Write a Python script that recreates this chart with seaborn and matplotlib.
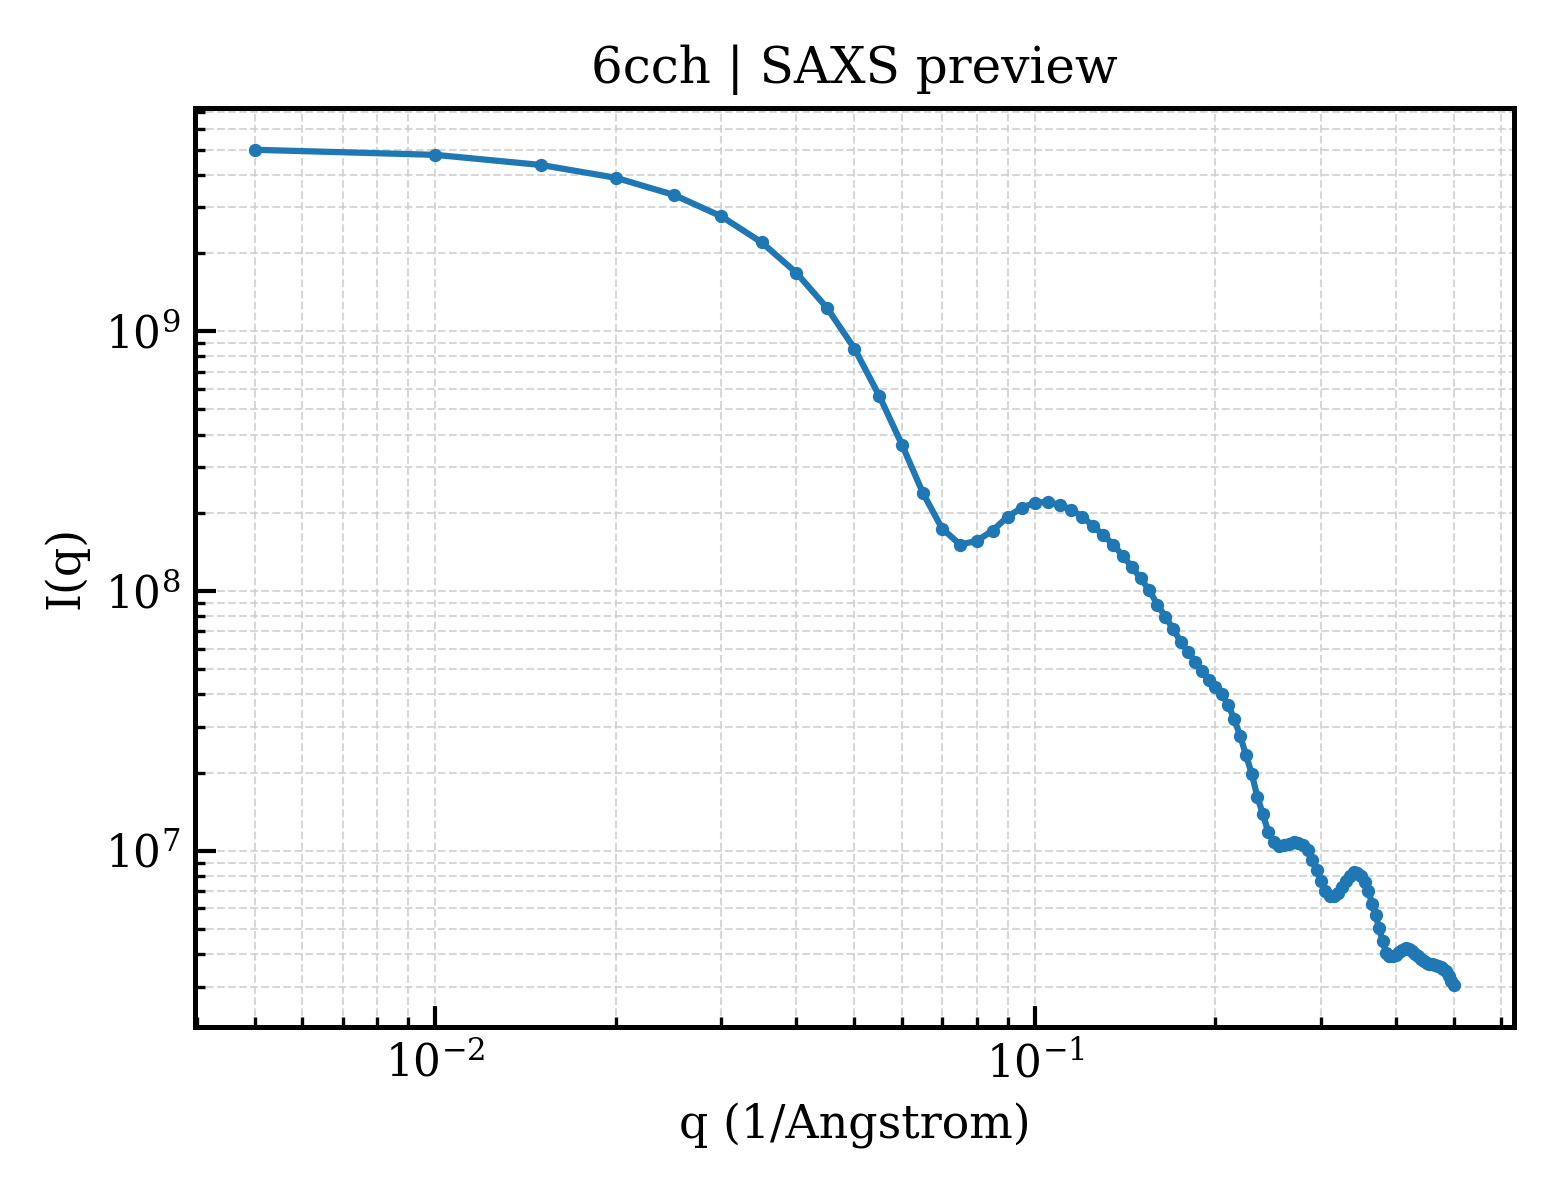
import matplotlib
matplotlib.use("Agg")
import matplotlib.pyplot as plt
import seaborn as sns
import pandas as pd

q_values = [
    0.005, 0.010, 0.015, 0.020, 0.025, 0.030, 0.035, 0.040, 0.045, 0.050,
    0.055, 0.060, 0.065, 0.070, 0.075, 0.080, 0.085, 0.090, 0.095, 0.100,
    0.105, 0.110, 0.115, 0.120, 0.125, 0.130, 0.135, 0.140, 0.145, 0.150,
    0.155, 0.160, 0.165, 0.170, 0.175, 0.180, 0.185, 0.190, 0.195, 0.200,
    0.205, 0.210, 0.215, 0.220, 0.225, 0.230, 0.235, 0.240, 0.245, 0.250,
    0.255, 0.260, 0.265, 0.270, 0.275, 0.280, 0.285, 0.290, 0.295, 0.300,
    0.305, 0.310, 0.315, 0.320, 0.325, 0.330, 0.335, 0.340, 0.345, 0.350,
    0.355, 0.360, 0.365, 0.370, 0.375, 0.380, 0.385, 0.390, 0.395, 0.400,
    0.405, 0.410, 0.415, 0.420, 0.425, 0.430, 0.435, 0.440, 0.445, 0.450,
    0.455, 0.460, 0.465, 0.470, 0.475, 0.480, 0.485, 0.490, 0.495, 0.500,
]

intensity = [
    5.00e9, 4.78e9, 4.37e9, 3.90e9, 3.35e9, 2.77e9, 2.20e9, 1.68e9, 1.23e9, 8.58e8,
    5.64e8, 3.66e8, 2.39e8, 1.74e8, 1.51e8, 1.56e8, 1.71e8, 1.93e8, 2.09e8, 2.19e8,
    2.20e8, 2.15e8, 2.06e8, 1.93e8, 1.78e8, 1.64e8, 1.51e8, 1.37e8, 1.24e8, 1.12e8,
    1.01e8, 8.87e7, 7.96e7, 7.14e7, 6.38e7, 5.84e7, 5.35e7, 4.92e7, 4.54e7, 4.27e7,
    4.00e7, 3.65e7, 3.21e7, 2.76e7, 2.33e7, 1.97e7, 1.61e7, 1.38e7, 1.18e7, 1.08e7,
    1.04e7, 1.05e7, 1.06e7, 1.08e7, 1.07e7, 1.05e7, 1.01e7, 9.19e6, 8.41e6, 7.64e6,
    6.99e6, 6.71e6, 6.71e6, 6.89e6, 7.24e6, 7.64e6, 8.02e6, 8.26e6, 8.23e6, 7.97e6,
    7.57e6, 7.02e6, 6.22e6, 5.65e6, 5.04e6, 4.51e6, 4.04e6, 3.95e6, 3.92e6, 3.98e6,
    4.07e6, 4.16e6, 4.22e6, 4.18e6, 4.11e6, 4.01e6, 3.93e6, 3.84e6, 3.76e6, 3.71e6,
    3.67e6, 3.65e6, 3.63e6, 3.60e6, 3.57e6, 3.52e6, 3.43e6, 3.29e6, 3.15e6, 3.03e6,
]

title_text = "6cch | SAXS preview"
x_label = "q (1/Angstrom)"
y_label = "I(q)"

df = pd.DataFrame({"q": q_values, "I": intensity})

sns.set_style("white")
plt.rcParams["font.family"] = ["DejaVu Serif", "DejaVu Sans"]
plt.rcParams["mathtext.fontset"] = "dejavuserif"
for key in ["text.color", "axes.labelcolor", "xtick.color", "ytick.color", "axes.edgecolor"]:
    plt.rcParams[key] = "black"

fig, ax = plt.subplots(figsize=(5.2, 4.0), dpi=300)
sns.lineplot(data=df, x="q", y="I", ax=ax, color="#1f77b4", linewidth=1.5,
             marker="o", markersize=3.2, markeredgewidth=0)
ax.set_xscale("log")
ax.set_yscale("log")

ax.grid(True, which="both", linestyle="--", linewidth=0.5, color="#cfcfcf", alpha=0.8)
ax.tick_params(which="both", direction="in", bottom=True, left=True,
               top=False, right=False, colors="black")
ax.tick_params(which="major", length=5, width=1.0, labelsize=10.5)
ax.tick_params(which="minor", length=2.5, width=0.8)
for s in ax.spines.values():
    s.set_linewidth(1.2)
    s.set_color("black")

ax.set_title(title_text, fontsize=12, color="black")
ax.set_xlabel(x_label, fontsize=11)
ax.set_ylabel(y_label, fontsize=11)

fig.subplots_adjust(left=0.125, right=0.9705, top=0.91, bottom=0.144)
fig.savefig("out.png", dpi=300)
